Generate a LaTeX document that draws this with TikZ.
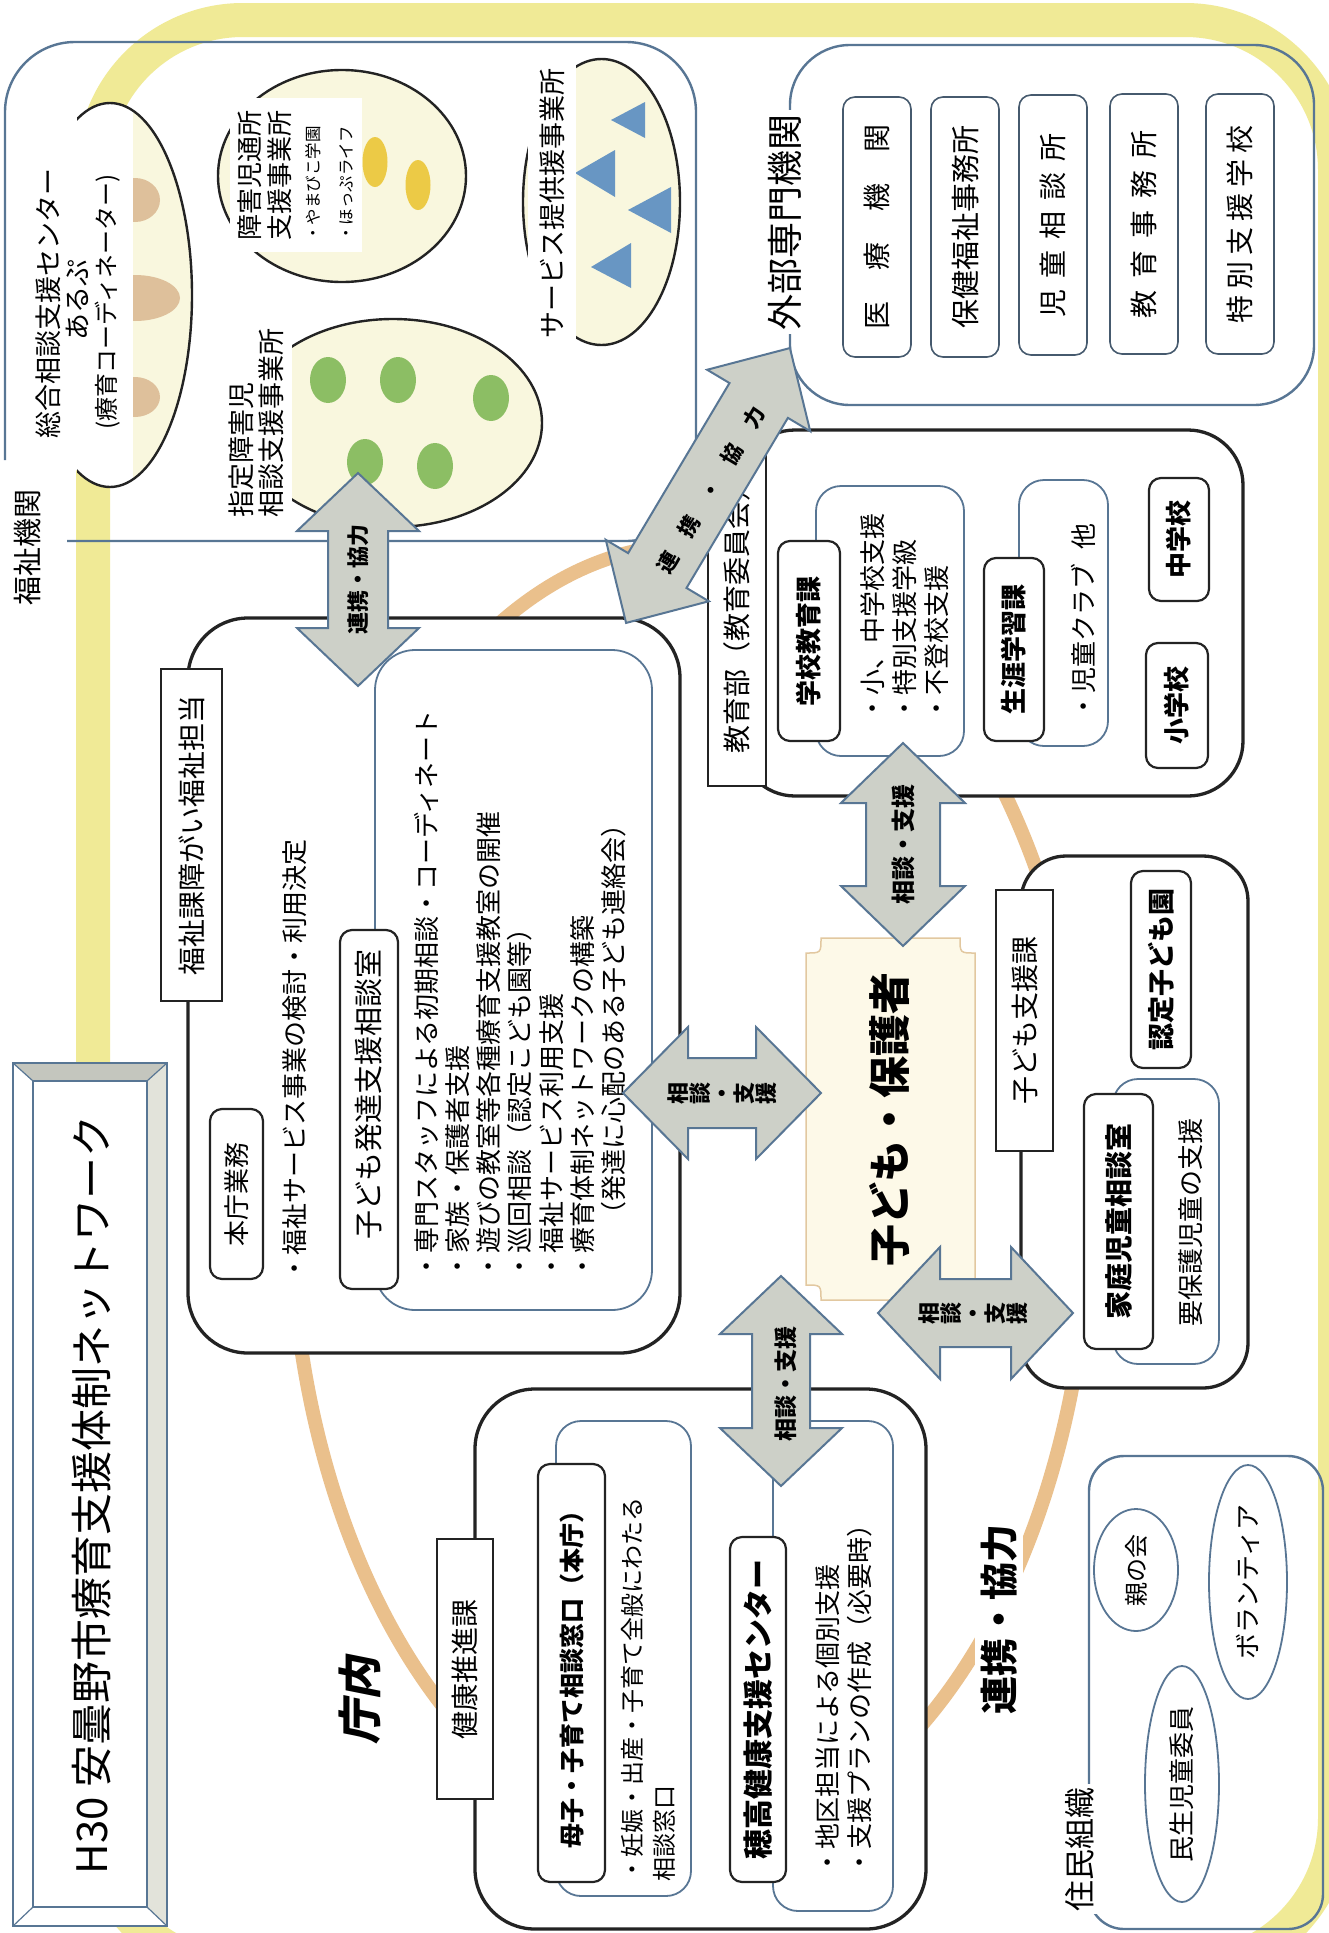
\documentclass[tikz,border=0pt]{standalone}
\usepackage{fontspec}
\setmainfont{Noto Sans CJK JP}
\newfontfamily\slantjp{Noto Sans CJK JP}[FakeSlant=0.2]
\usetikzlibrary{shapes.geometric}

\definecolor{bandyellow}{RGB}{240,234,150}
\definecolor{ringtan}{RGB}{234,192,140}
\definecolor{boxline}{RGB}{35,35,35}
\definecolor{steel}{RGB}{88,118,148}
\definecolor{extline}{RGB}{70,90,110}
\definecolor{cream}{RGB}{249,247,222}
\definecolor{arrowgray}{RGB}{205,208,200}
\definecolor{dotgreen}{RGB}{140,190,100}
\definecolor{dotyellow}{RGB}{236,202,70}
\definecolor{dottan}{RGB}{222,192,155}
\definecolor{triblue}{RGB}{104,150,195}
\definecolor{centrefill}{RGB}{253,249,232}
\definecolor{centreline}{RGB}{226,200,160}
\definecolor{bevelgray}{RGB}{196,198,190}
\definecolor{bevellight}{RGB}{226,227,218}

\newcommand{\fsz}[1]{\fontsize{#1}{#1}\selectfont}
\newcommand{\blockarrow}[6]{%
  \begin{scope}[shift={(#1)}, rotate=#2]
    \draw[bigarrow] (-#3,0) -- (-#3+#6,#5) -- (-#3+#6,#4) -- (#3-#6,#4) -- (#3-#6,#5) -- (#3,0)
      -- (#3-#6,-#5) -- (#3-#6,-#4) -- (-#3+#6,-#4) -- (-#3+#6,-#5) -- cycle;
  \end{scope}}

\tikzset{
  vt/.style={rotate=90, inner sep=0pt},
  bigbox/.style={draw=boxline, line width=3.3, rounded corners=60, fill=white},
  inbox/.style={draw=steel, line width=1.8, rounded corners=25, fill=white},
  tagbox/.style={vt, draw=boxline, line width=2.2, rounded corners=12, fill=white},
  headbox/.style={vt, draw=boxline, line width=1.3, fill=white},
  extbox/.style={vt, draw=extline, line width=1.6, rounded corners=12, fill=white, minimum width=260, minimum height=68, font=\fsz{28}},
  oval/.style={draw=boxline, line width=2.4, fill=cream},
  resident/.style={vt, ellipse, draw=steel, line width=1.8, fill=white, font=\fsz{26}},
  bigarrow/.style={draw=steel, line width=2, fill=arrowgray},
  arrowtxt/.style={vt, font=\bfseries\fsz{22}},
}

\begin{document}
\begin{tikzpicture}[x=1pt, y=-1pt]
\useasboundingbox (0,0) rectangle (1328,1933);
\fill[white] (0,0) rectangle (1328,1933);

\draw[bandyellow, line width=34, rounded corners=150] (93,20) rectangle (1335,1968);
\draw[ringtan, line width=14] (690,1195) ellipse [x radius=400, y radius=650];

\draw[steel, line width=2.4, rounded corners=70] (5,460) -- (5,42) -- (696,42) -- (696,541) -- (67,541);
\node (fukushikikan) at (28,547) [vt, font=\fsz{29}] {福祉機関};

\fill[white] (110,295) ellipse [x radius=82, y radius=192];
\begin{scope}
  \clip (133,90) rectangle (200,500);
  \fill[cream] (110,295) ellipse [x radius=82, y radius=192];
  \fill[dottan] (135,200) ellipse [x radius=25, y radius=22];
  \fill[dottan] (135,298) ellipse [x radius=45, y radius=23];
  \fill[dottan] (135,397) ellipse [x radius=25, y radius=20];
\end{scope}
\begin{scope}
  \clip (77,90) rectangle (200,500);
  \draw[boxline, line width=2.4] (110,295) ellipse [x radius=82, y radius=192];
\end{scope}
\node (sogoA) at (48,303) [vt, font=\fsz{27}] {総合相談支援センター};
\node (sogoB) at (77,300) [vt, font=\fsz{27}] {あるぷ};
\node (sogoC) at (108,302) [vt, font=\fsz{24}] {(療育コーディネーター)};

\draw[oval] (342,176) ellipse [x radius=124, y radius=106];
\fill[dotyellow] (375,162) ellipse [x radius=12.5, y radius=25];
\fill[dotyellow] (418,185) ellipse [x radius=12.5, y radius=25];
\fill[white] (230,98) rectangle (362,252);
\node (tsusho) at (265,175) [vt, align=center, font=\fontsize{26}{30}\selectfont] {障害児通所\\支援事業所};
\node (tsushoList) at (305,242) [vt, anchor=north west, align=left, font=\fontsize{16.5}{33}\selectfont] {・やまびこ学園\\・ほっぷライフ};

\draw[oval] (393,423) ellipse [x radius=149, y radius=104];
\foreach \gx/\gy in {328/380, 398/380, 365/462, 435/466, 491/398}
  \fill[dotgreen] (\gx,\gy) ellipse [x radius=18, y radius=23];
\fill[white] (226,325) rectangle (292,522);
\node (shitei) at (229,518) [vt, anchor=north west, align=left, font=\fontsize{27}{30}\selectfont] {指定障害児\\相談支援事業所};

\draw[oval] (601.5,202) ellipse [x radius=78.5, y radius=143];
\fill[triblue] (575,173) -- (615,150) -- (615,197) -- cycle;
\fill[triblue] (611,120) -- (645,102) -- (645,138) -- cycle;
\fill[triblue] (628,210) -- (671,187) -- (671,233) -- cycle;
\fill[triblue] (591,267) -- (631,243) -- (631,288) -- cycle;
\node (service) at (552,203) [vt, fill=white, inner xsep=3, inner ysep=12, font=\fsz{27}] {サービス提供援事業所};

\node (gaibu) at (1052,225) [draw=steel, line width=2.4, rounded corners=60, minimum width=524, minimum height=360] {};
\node (gaibuLbl) at (785,222) [vt, fill=white, inner sep=4, font=\fsz{36}] {外部専門機関};
\node (iryo) at (877,227) [extbox] {医\hspace{31pt}療\hspace{31pt}機\hspace{31pt}関};
\node (hoken) at (965,227) [extbox, font=\fsz{29}] {保健福祉事務所};
\node (jido) at (1053,225) [extbox] {児\hspace{11pt}童\hspace{11pt}相\hspace{11pt}談\hspace{11pt}所};
\node (kyoikuJ) at (1144,224) [extbox] {教\hspace{12pt}育\hspace{12pt}事\hspace{12pt}務\hspace{12pt}所};
\node (tokubetsu) at (1240,224) [extbox] {特\hspace{6pt}別\hspace{6pt}支\hspace{6pt}援\hspace{6pt}学\hspace{6pt}校};

\node (fukushika) at (434,985.5) [bigbox, minimum width=492, minimum height=735] {};
\node (fukuHead) at (191.5,835) [headbox, minimum width=332, minimum height=61, font=\fsz{28}] {福祉課障がい福祉担当};
\node (honcho) at (236.5,1194) [tagbox, minimum width=170, minimum height=53, font=\fsz{26}] {本庁業務};
\node (fukuList) at (295,1282) [vt, anchor=west, font=\fsz{26}] {・福祉サービス事業の検討・利用決定};
\node (hattatsuBox) at (513.5,980) [inbox, rounded corners=40, minimum width=277, minimum height=660] {};
\node (hattatsu) at (369,1109.5) [tagbox, minimum width=359, minimum height=58, font=\fsz{29}] {\hspace{30pt}子ども発達支援相談室};
\node (hattatsuList) at (414,1280) [vt, anchor=north west, align=left, font=\fontsize{26}{31.2}\selectfont] {・専門スタッフによる初期相談・コーディネート\\・家族・保護者支援\\・遊びの教室等各種療育支援教室の開催\\・巡回相談（認定こども園等）\\・福祉サービス利用支援\\・療育体制ネットワークの構築\\\hspace{2em}（発達に心配のある子ども連絡会）};

\node (kyoikubu) at (991.5,613) [bigbox, rounded corners=55, minimum width=503, minimum height=366] {};
\node (kyoikuHead) at (737,613) [headbox, minimum width=346, minimum height=58, font=\fsz{28}] {教育部（教育委員会）};
\node (gakkoBox) at (890,621) [inbox, minimum width=148, minimum height=270] {};
\node (gakko) at (809,641) [tagbox, minimum width=200, minimum height=62, font=\bfseries\fsz{26}] {学校教育課};
\node (gakkoList) at (860,722) [vt, anchor=north west, align=left, font=\fontsize{26}{32}\selectfont] {・小、中学校支援\\・特別支援学級\\・不登校支援};
\node (shogaiBox) at (1063.5,613) [inbox, minimum width=89, minimum height=266] {};
\node (shogai) at (1014,649.5) [tagbox, minimum width=183, minimum height=60, font=\bfseries\fsz{26}] {生涯学習課};
\node (shogaiList) at (1083,720) [vt, anchor=west, font=\fsz{26}] {・児童クラブ\hspace{14pt}他};
\node (sho) at (1177,705.5) [tagbox, minimum width=125, minimum height=62, font=\bfseries\fsz{26}] {小学校};
\node (chu) at (1179,539.5) [tagbox, minimum width=123, minimum height=60, font=\bfseries\fsz{26}] {中学校};

\node (kodomoka) at (1134.5,1122) [bigbox, rounded corners=45, minimum width=227, minimum height=532] {};
\node (kodomoHead) at (1024.5,1020.5) [headbox, minimum width=261, minimum height=57, font=\fsz{28}] {子ども支援課};
\node (nintei) at (1161,969.5) [tagbox, minimum width=197, minimum height=60, font=\bfseries\fsz{27}] {認定子ども園};
\node (kateiBox) at (1166,1221.5) [inbox, minimum width=106, minimum height=285] {};
\node (katei) at (1118.5,1221.5) [tagbox, minimum width=255, minimum height=69, font=\bfseries\fsz{28}] {家庭児童相談室};
\node (kateiTxt) at (1191,1222) [vt, font=\fsz{26}] {要保護児童の支援};

\node (kenko) at (700.5,1659) [bigbox, minimum width=451, minimum height=540] {};
\node (kenkoHead) at (465,1669) [headbox, minimum width=260, minimum height=56, font=\fsz{28}] {健康推進課};
\node (boshiBox) at (623.5,1658.5) [inbox, minimum width=135, minimum height=475] {};
\node (boshi) at (571.5,1673) [tagbox, minimum width=418, minimum height=67, font=\bfseries\fsz{25}] {母子・子育て相談窓口（本庁）};
\node (boshiList) at (621,1882) [vt, anchor=north west, align=left, font=\fontsize{24}{32}\selectfont] {・妊娠・出産・子育て全般にわたる\\相談窓口};
\node (hotakaBox) at (833,1666) [inbox, minimum width=120, minimum height=490] {};
\node (hotaka) at (758,1709.5) [tagbox, minimum width=345, minimum height=56, font=\bfseries\fsz{30}] {穂高健康支援センター};
\node (hotakaList) at (815,1876) [vt, anchor=north west, align=left, font=\fontsize{26}{32}\selectfont] {・地区担当による個別支援\\・支援プランの作成（必要時）};

\node (jumin) at (1206,1692.5) [draw=steel, line width=2.4, rounded corners=35, minimum width=234, minimum height=473] {};
\node (juminLbl) at (1080,1849) [vt, fill=white, inner sep=3, font=\fsz{31}] {住民組織};
\node (oya) at (1136,1570) [resident, minimum width=122, minimum height=84, font=\fsz{24}] {親の会};
\node (volunteer) at (1248,1582) [resident, minimum width=234, minimum height=78] {ボランティア};
\node (minsei) at (1182,1784) [resident, minimum width=236, minimum height=74] {民生児童委員};

\draw[centreline, line width=1.5, fill=centrefill] (806,953) .. controls (821,953) .. (821,938) -- (960,938) .. controls (960,953) .. (975,953) -- (975,1285) .. controls (960,1285) .. (960,1300) -- (821,1300) .. controls (821,1285) .. (806,1285) -- cycle;
\node (center) at (890,1119) [vt, font=\bfseries\fsz{42}] {子ども・保護者};

\node (renkei) at (999,1619) [vt, fill=white, inner sep=6, font=\bfseries\fsz{38}] {連携・協力};
\node (chonai) at (360,1700) [vt, font=\slantjp\bfseries\fsz{44}] {庁内};

\coordinate (arrA) at (358,579.5);
\blockarrow{arrA}{90}{106.5}{30}{61}{58}
\node (rkA) at (arrA) [arrowtxt] {連携・協力};
\coordinate (arrB) at (708,485.5);
\blockarrow{arrB}{59.2}{160}{34}{60}{61}
\node (rkB) at (711,490) [rotate=59.2, inner sep=0pt, font=\bfseries\fsz{21}] {連\hspace{21pt}携\hspace{21pt}・\hspace{21pt}協\hspace{21pt}力};
\coordinate (arrC) at (722,1093);
\blockarrow{arrC}{0}{99}{35}{66}{65}
\node (rkC) at (arrC) [vt, align=center, font=\bfseries\fontsize{22}{22}\selectfont] {相\\談\\・\\支\\援};
\coordinate (arrD) at (903,844.5);
\blockarrow{arrD}{90}{101.5}{37}{62}{60}
\node (rkD) at (arrD) [arrowtxt, font=\bfseries\fsz{24}] {相談・支援};
\coordinate (arrE) at (975.5,1313);
\blockarrow{arrE}{0}{97.5}{34}{66}{62}
\node (rkE) at (973,1313) [vt, align=center, font=\bfseries\fontsize{22}{22}\selectfont] {相\\談\\・\\支\\援};
\coordinate (arrF) at (781,1381);
\blockarrow{arrF}{90}{105}{29}{61}{58}
\node (rkF) at (786,1384) [arrowtxt, font=\bfseries\fsz{23}] {相談・支援};

\fill[white] (13,1063) rectangle (167,1926);
\fill[bevelgray] (13,1063) -- (167,1063) -- (147,1081) -- (33,1081) -- cycle;
\fill[bevellight] (167,1063) -- (167,1926) -- (147,1907) -- (147,1081) -- cycle;
\draw[steel, line width=1.5] (13,1063) rectangle (167,1926);
\draw[steel, line width=1.5] (33,1081) rectangle (147,1907);
\draw[steel, line width=1.2] (13,1063) -- (33,1081) (167,1063) -- (147,1081) (167,1926) -- (147,1907) (13,1926) -- (33,1907);
\node (title) at (92,1495) [vt, font=\fsz{42}] {H30 安曇野市療育支援体制ネットワーク};
\end{tikzpicture}
\end{document}
